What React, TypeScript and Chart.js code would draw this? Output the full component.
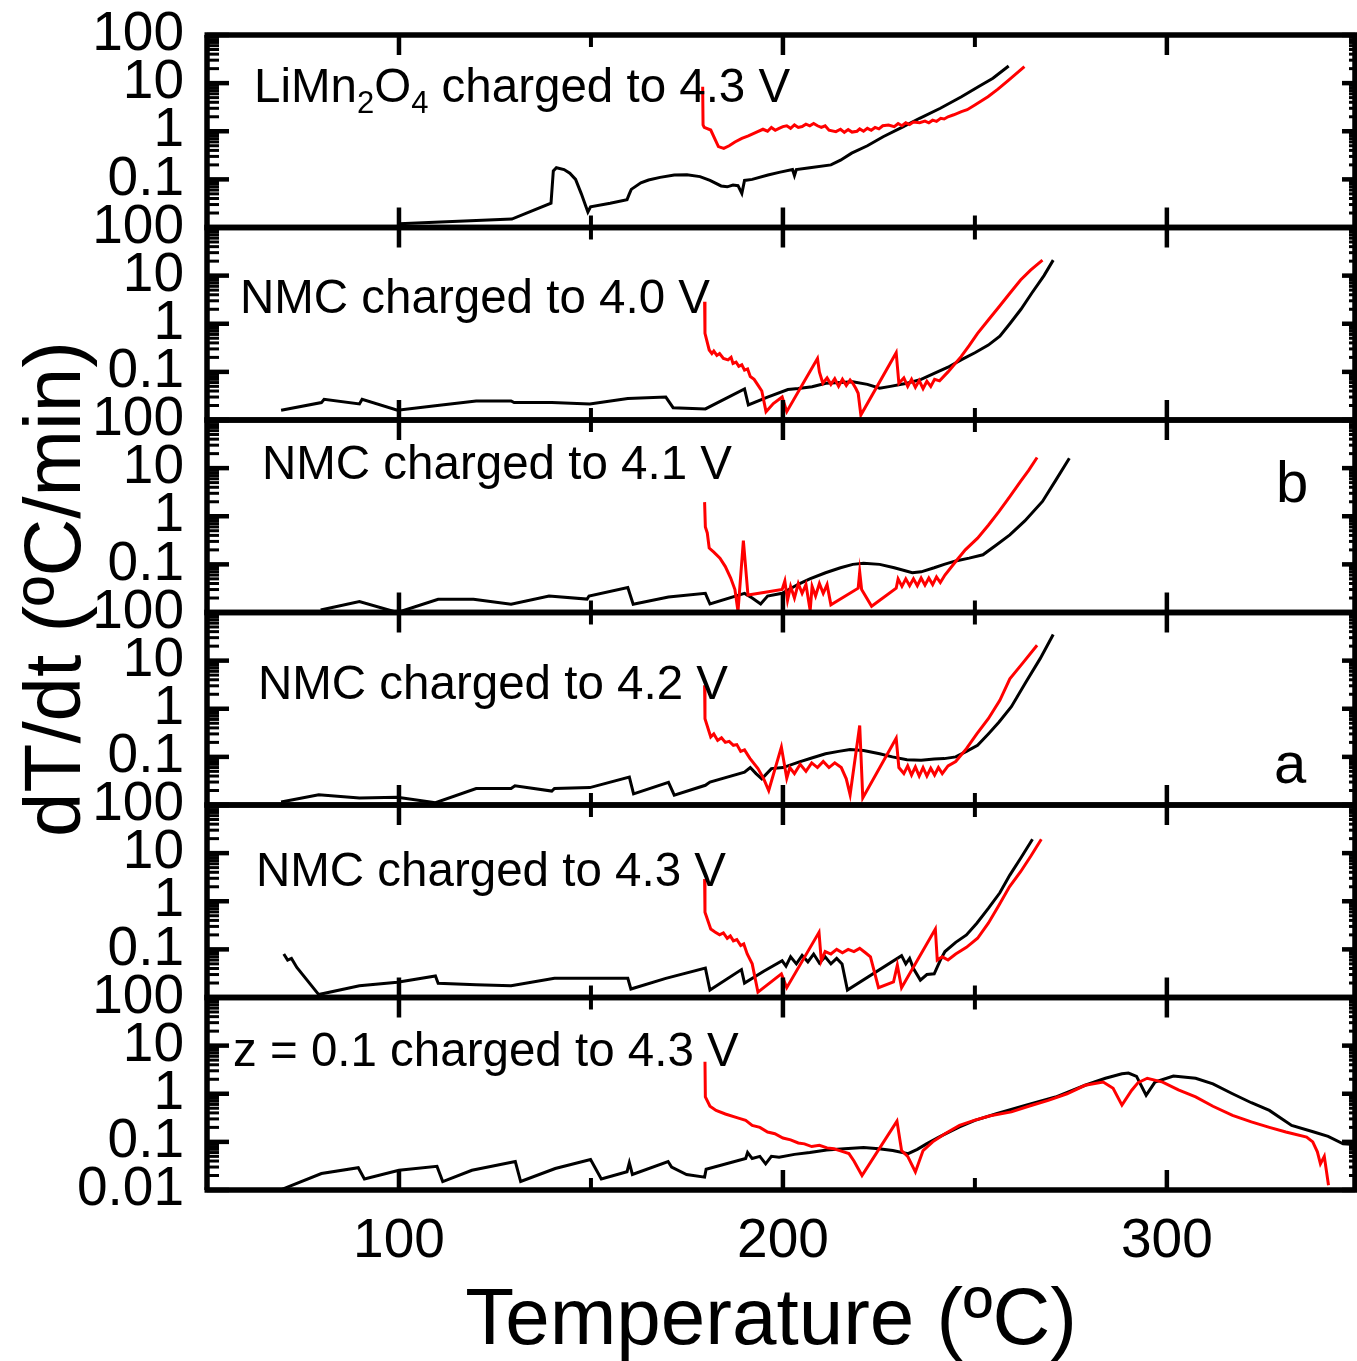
import React, { useEffect, useRef } from 'react';
import { Chart, registerables } from 'chart.js';

Chart.register(...registerables);

const FONT = '"Liberation Sans", Arial, Helvetica, sans-serif';

// ---------- axes ----------
const xMin = 50;
const xMax = 349;
const xMajorTicks = [100, 200, 300];
const xMinorTicks = [150, 250];
const xTickLabels = ['100', '200', '300'];

const yMin = 0.01;
const yMax = 100;
const yDecades = [0.01, 0.1, 1, 10, 100];
const yTickLabels = ['0.01', '0.1', '1', '10', '100'];
const yMinorMult = [2, 3, 4, 5, 6, 7, 8, 9];

const xTitle = 'Temperature (ºC)';
const yTitle = 'dT/dt (ºC/min)';

const panelTitles = [
  'LiMn2O4 charged to 4.3 V',
  'NMC charged to 4.0 V',
  'NMC charged to 4.1 V',
  'NMC charged to 4.2 V',
  'NMC charged to 4.3 V',
  'z = 0.1 charged to 4.3 V',
];
const panel1TitleParts: [string, boolean][] = [
  ['LiMn', false], ['2', true], ['O', false], ['4', true], [' charged to 4.3 V', false],
];
const sideLetters = ['b', 'a'];

// ---------- panel 1 : LiMn2O4 4.3 V ----------
const p1BlackT = [100, 129.4, 139.6, 140.2, 141, 143, 144.5, 146, 147.5, 149.2, 149.9, 155, 159.4, 160, 160.5, 163, 165, 168, 171.7, 175, 178.4, 181, 183.9, 185.5, 187, 188.3, 189.3, 190, 192, 196.1, 199, 202.5, 203, 203.5, 207, 212.5, 215, 217.9, 222, 226.1, 231, 235.6, 241, 246.5, 251, 254.7, 258.8];
const p1BlackV = [0.012, 0.015, 0.032, 0.15, 0.175, 0.16, 0.134, 0.1, 0.05, 0.021, 0.027, 0.032, 0.038, 0.05, 0.062, 0.085, 0.097, 0.11, 0.123, 0.125, 0.114, 0.095, 0.073, 0.07, 0.076, 0.074, 0.051, 0.095, 0.1, 0.123, 0.14, 0.16, 0.12, 0.16, 0.175, 0.2, 0.25, 0.35, 0.5, 0.77, 1.2, 1.86, 3.0, 5.2, 8.5, 12.6, 22.7];
const p1RedT = [179.1, 179.2, 179.5, 181.2, 183.2, 184.6, 186, 187.5, 189.3, 191, 193, 194.8, 196, 197, 198, 199, 200, 201, 202, 203, 204, 205, 206, 207, 208, 209, 210, 211, 212, 213.8, 215, 216, 217, 218, 219.3, 220, 221, 222, 223, 224, 225, 226, 227.5, 229, 230, 231, 232, 233, 234, 235.6, 237, 238, 239, 240, 241.1, 242, 243, 244.5, 246.5, 248, 250, 253.4, 256, 258.8, 262.9];
const p1RedV = [8.4, 1.35, 1.2, 1.06, 0.48, 0.44, 0.5, 0.6, 0.71, 0.8, 0.95, 1.1, 1.0, 1.2, 1.05, 1.15, 1.25, 1.3, 1.15, 1.35, 1.2, 1.25, 1.4, 1.3, 1.45, 1.3, 1.2, 1.3, 1.05, 0.98, 1.1, 0.95, 1.08, 0.96, 1.0, 1.12, 1.0, 1.15, 1.05, 1.2, 1.12, 1.3, 1.35, 1.25, 1.45, 1.3, 1.5, 1.38, 1.55, 1.5, 1.62, 1.5, 1.7, 1.6, 1.86, 1.8, 2.0, 2.2, 2.55, 2.8, 3.5, 5.2, 7.5, 11.6, 22];

// ---------- panel 2 : NMC 4.0 V ----------
const p2BlackT = [69.3, 79.8, 80.5, 89.7, 90.4, 99.6, 110, 120.1, 129.2, 130, 139.8, 149.7, 159.6, 169.5, 171.4, 179.8, 190, 191, 196, 201.3, 204, 207.6, 211.2, 215, 218.2, 222, 225.2, 228, 232.3, 236, 239.4, 243, 246.4, 250, 253.5, 256.5, 259.1, 262, 264.8, 268, 270.4];
const p2BlackV = [0.016, 0.023, 0.027, 0.0215, 0.027, 0.016, 0.02, 0.0248, 0.0248, 0.023, 0.023, 0.0215, 0.028, 0.03, 0.018, 0.017, 0.044, 0.0205, 0.03, 0.043, 0.045, 0.049, 0.058, 0.06, 0.0625, 0.055, 0.0457, 0.05, 0.058, 0.07, 0.093, 0.125, 0.177, 0.25, 0.36, 0.55, 1.0, 2.0, 4.3, 10, 21];
const p2RedT = [179.6, 179.7, 180.8, 181.5, 182, 182.8, 183.5, 184.5, 185.7, 186.5, 187, 187.8, 188.5, 189.3, 190, 190.8, 191.5, 192.5, 193.5, 194.5, 195.6, 197.5, 199.8, 201, 209, 209.5, 210.4, 211.5, 212.5, 213.5, 214.5, 215.5, 216.5, 217.5, 218.2, 219, 219.6, 220.3, 229.5, 230.2, 231.5, 232.5, 233.5, 234.5, 235.5, 236.5, 237.5, 238.5, 239.5, 240.8, 243, 246.4, 248.5, 250.7, 253.5, 256.3, 259, 261.9, 264.5, 267.6];
const p2RedV = [2.87, 0.63, 0.285, 0.24, 0.27, 0.22, 0.24, 0.19, 0.177, 0.2, 0.15, 0.16, 0.13, 0.14, 0.109, 0.115, 0.08, 0.07, 0.053, 0.04, 0.0149, 0.022, 0.03, 0.0149, 0.19, 0.1, 0.058, 0.075, 0.055, 0.072, 0.05, 0.07, 0.052, 0.068, 0.058, 0.045, 0.036, 0.0127, 0.25, 0.058, 0.075, 0.05, 0.07, 0.048, 0.066, 0.045, 0.064, 0.05, 0.07, 0.065, 0.1, 0.207, 0.35, 0.63, 1.2, 2.26, 4.2, 8.1, 13, 21];

// ---------- panel 3 : NMC 4.1 V ----------
const p3BlackT = [79.6, 89.7, 99.6, 110.2, 119.4, 129.2, 139.1, 149, 149.5, 159.6, 161, 170.2, 179.8, 181, 190, 192, 194.2, 196, 199.8, 204.1, 207, 211.1, 215, 218.2, 221, 225.2, 229, 233.7, 236, 239.4, 242, 245, 248.5, 252.1, 255.5, 259.1, 263, 267.6, 271, 274.6];
const p3BlackV = [0.0113, 0.0168, 0.01, 0.0188, 0.0188, 0.0148, 0.022, 0.019, 0.022, 0.033, 0.0148, 0.021, 0.025, 0.015, 0.025, 0.02, 0.015, 0.022, 0.025, 0.039, 0.05, 0.067, 0.085, 0.1, 0.105, 0.1, 0.085, 0.067, 0.07, 0.085, 0.1, 0.118, 0.135, 0.158, 0.25, 0.41, 0.8, 2.03, 5.5, 16];
const p3RedT = [179.6, 179.8, 180.3, 180.8, 182, 183.6, 185, 186.4, 187.5, 188.3, 189.7, 190.9, 195, 199.8, 200.5, 201.2, 202, 203, 204, 205, 206, 207.1, 207.6, 208.5, 209.5, 210.5, 211.5, 212.5, 219.6, 220, 220.5, 223.1, 229.5, 230, 231, 232, 233, 234, 235, 236, 237, 238, 239, 240, 241, 242.2, 245, 247.5, 250.7, 253.5, 256.3, 259, 261.9, 264, 266.2];
const p3RedV = [1.97, 0.6, 0.45, 0.218, 0.18, 0.135, 0.09, 0.052, 0.03, 0.0105, 0.31, 0.023, 0.026, 0.03, 0.045, 0.018, 0.035, 0.02, 0.04, 0.025, 0.038, 0.011, 0.035, 0.022, 0.04, 0.025, 0.038, 0.0144, 0.032, 0.07, 0.03, 0.0135, 0.032, 0.05, 0.035, 0.05, 0.036, 0.05, 0.036, 0.052, 0.037, 0.052, 0.038, 0.055, 0.042, 0.06, 0.115, 0.2, 0.35, 0.65, 1.26, 2.5, 5.3, 9, 16.6];

// ---------- panel 4 : NMC 4.2 V ----------
const p4BlackT = [69.3, 79.1, 89.7, 99.6, 109.5, 120.1, 129.2, 130.2, 139.8, 140.5, 149.7, 160, 161.1, 170.2, 171.7, 179.8, 181, 190, 191.5, 193, 194.5, 197, 200, 204.1, 207.5, 211.1, 214.5, 217.5, 221, 225.2, 228.5, 232.3, 236, 239.4, 242, 245, 247.8, 250.7, 253.5, 256.3, 259.5, 263.3, 267, 270.4];
const p4BlackV = [0.0115, 0.0164, 0.014, 0.0145, 0.0112, 0.022, 0.022, 0.025, 0.0195, 0.022, 0.023, 0.038, 0.017, 0.0295, 0.016, 0.0257, 0.03, 0.048, 0.06, 0.045, 0.035, 0.057, 0.06, 0.078, 0.095, 0.116, 0.13, 0.143, 0.135, 0.116, 0.1, 0.087, 0.085, 0.09, 0.092, 0.1, 0.13, 0.174, 0.3, 0.53, 1.1, 3.6, 11, 35];
const p4RedT = [179.6, 179.7, 181.2, 182, 183, 184, 185, 186, 187.1, 188, 189, 190, 191.4, 193.5, 195, 196.3, 199.6, 201, 201.8, 203, 204.5, 206, 207.5, 209, 210.5, 212, 213.5, 215.2, 216.5, 217.5, 220, 220.8, 229.5, 230.2, 231.5, 232.5, 233.5, 234.5, 235.5, 236.5, 237.5, 238.5, 239.5, 240.5, 241.5, 243, 245, 247.8, 250.5, 253.5, 256.5, 259.1, 262.5, 266.2];
const p4RedV = [3.07, 0.62, 0.26, 0.3, 0.22, 0.25, 0.2, 0.21, 0.174, 0.18, 0.13, 0.14, 0.093, 0.057, 0.035, 0.02, 0.16, 0.036, 0.06, 0.045, 0.07, 0.05, 0.075, 0.06, 0.08, 0.06, 0.075, 0.06, 0.035, 0.0164, 0.45, 0.014, 0.245, 0.06, 0.045, 0.065, 0.042, 0.062, 0.04, 0.06, 0.04, 0.058, 0.042, 0.06, 0.045, 0.065, 0.08, 0.148, 0.3, 0.62, 1.5, 4.2, 9, 20.8];

// ---------- panel 5 : NMC 4.3 V ----------
const p5BlackT = [70, 71, 72, 73.4, 79.1, 89.7, 99.6, 109.5, 110.2, 120.1, 129.2, 140.5, 159.6, 160.4, 169.5, 179.8, 181, 189.2, 190, 195, 199.8, 200.8, 202, 203.5, 205, 206.5, 208, 209.5, 211, 212.5, 214, 215.4, 216.8, 230.9, 232, 233, 234, 235.8, 237.5, 239.4, 241, 242.2, 245, 247.8, 250.5, 253.5, 256.5, 259.1, 262, 265];
const p5BlackV = [0.08, 0.06, 0.065, 0.042, 0.0115, 0.0176, 0.0207, 0.028, 0.0197, 0.0185, 0.0176, 0.025, 0.025, 0.015, 0.025, 0.041, 0.0143, 0.038, 0.02, 0.035, 0.058, 0.045, 0.07, 0.05, 0.075, 0.055, 0.08, 0.052, 0.07, 0.05, 0.065, 0.05, 0.0143, 0.074, 0.05, 0.065, 0.04, 0.023, 0.03, 0.031, 0.06, 0.09, 0.14, 0.2, 0.35, 0.71, 1.5, 3.5, 8, 19.4];
const p5RedT = [179.6, 179.7, 181.2, 182.3, 183.5, 184.5, 185.5, 186.3, 187.1, 188, 189, 189.8, 190.7, 192, 193.5, 199.6, 201, 209.4, 210, 211, 212.5, 214, 215.5, 217, 218.5, 220, 221.5, 222.8, 224.9, 228.8, 229.8, 230.9, 239.7, 240.2, 241.5, 243, 245, 247.8, 250.7, 253.5, 256.3, 259, 261.9, 264.5, 267.3];
const p5RedV = [2.9, 0.59, 0.265, 0.23, 0.2, 0.22, 0.17, 0.19, 0.15, 0.16, 0.12, 0.13, 0.08, 0.05, 0.0129, 0.031, 0.016, 0.226, 0.058, 0.09, 0.08, 0.1, 0.085, 0.1, 0.09, 0.105, 0.085, 0.07, 0.016, 0.021, 0.047, 0.016, 0.265, 0.06, 0.07, 0.06, 0.08, 0.11, 0.17, 0.35, 0.84, 2.0, 4.1, 8.5, 19.4];

// ---------- panel 6 : z = 0.1 4.3 V ----------
const p6BlackT = [69.2, 79.8, 89.4, 91, 100, 109.9, 111.4, 119, 130.3, 131.7, 140.7, 149.9, 152.7, 159.4, 160, 160.8, 170.1, 171, 174.9, 179.6, 180, 190.3, 190.8, 192, 194, 195.5, 197, 199, 203, 207, 211.4, 216, 221, 225, 228.6, 232.6, 235, 237.4, 241, 246, 250, 255.6, 263.3, 271, 278.7, 284, 288.3, 290, 292.1, 294.6, 296.9, 301.7, 307.5, 312, 317.1, 322, 326.7, 332.5, 338.3, 342, 345.9, 349];
const p6BlackV = [0.0101, 0.022, 0.029, 0.017, 0.0257, 0.031, 0.015, 0.0257, 0.039, 0.015, 0.028, 0.043, 0.017, 0.024, 0.037, 0.021, 0.039, 0.03, 0.021, 0.0185, 0.027, 0.045, 0.06, 0.045, 0.05, 0.035, 0.05, 0.048, 0.055, 0.06, 0.068, 0.072, 0.076, 0.072, 0.066, 0.057, 0.07, 0.091, 0.13, 0.204, 0.28, 0.385, 0.575, 0.855, 1.5, 2.1, 2.6, 2.7, 2.3, 0.93, 1.75, 2.34, 2.1, 1.6, 1.0, 0.65, 0.45, 0.22, 0.16, 0.13, 0.091, 0.088];
const p6RedT = [179.7, 179.8, 181, 182.6, 185, 188, 190.3, 192, 194, 196, 197.9, 200, 202, 204, 205.6, 207.5, 209.5, 211.5, 213.3, 215, 217.2, 218.5, 220.6, 229.7, 230.9, 232.5, 234.5, 236.5, 239, 242.2, 246, 249.8, 254, 259.5, 264, 269.1, 274, 278.7, 283.4, 286, 288.3, 290.8, 292.5, 294.9, 298.9, 303, 307.5, 312, 317.1, 322, 326.7, 331, 336.4, 338, 339.2, 340, 341, 342.1];
const p6RedV = [4.6, 0.86, 0.55, 0.45, 0.38, 0.32, 0.28, 0.22, 0.2, 0.16, 0.148, 0.12, 0.11, 0.095, 0.091, 0.08, 0.085, 0.075, 0.072, 0.065, 0.057, 0.04, 0.02, 0.27, 0.066, 0.05, 0.0237, 0.066, 0.1, 0.148, 0.22, 0.28, 0.35, 0.42, 0.55, 0.73, 1.0, 1.5, 1.75, 1.3, 0.58, 1.17, 1.7, 2.1, 1.75, 1.2, 0.86, 0.55, 0.355, 0.26, 0.2, 0.16, 0.126, 0.1, 0.062, 0.035, 0.05, 0.0125];

const panelIds = ['y1', 'y2', 'y3', 'y4', 'y5', 'y6'];
const blackSeries: [number[], number[]][] = [
  [p1BlackT, p1BlackV], [p2BlackT, p2BlackV], [p3BlackT, p3BlackV],
  [p4BlackT, p4BlackV], [p5BlackT, p5BlackV], [p6BlackT, p6BlackV],
];
const redSeries: [number[], number[]][] = [
  [p1RedT, p1RedV], [p2RedT, p2RedV], [p3RedT, p3RedV],
  [p4RedT, p4RedV], [p5RedT, p5RedV], [p6RedT, p6RedV],
];

const toPts = (t: number[], v: number[]) => t.map((x, i) => ({ x, y: v[i] }));
const font = (size: number) => `${size}px ${FONT}`;

const framePlugin = {
  id: 'frames',
  afterDatasetsDraw(chart: any) {
    const ctx = chart.ctx as CanvasRenderingContext2D;
    const { left, right, top, bottom } = chart.chartArea;
    const xs = chart.scales.x;
    const seg = (x1: number, y1: number, x2: number, y2: number, w: number) => {
      ctx.lineWidth = w;
      ctx.beginPath();
      ctx.moveTo(x1, y1);
      ctx.lineTo(x2, y2);
      ctx.stroke();
    };
    ctx.save();
    ctx.strokeStyle = '#000';
    ctx.lineCap = 'butt';
    panelIds.forEach((id) => {
      const s = chart.scales[id];
      yDecades.forEach((d) => {
        const p = s.getPixelForValue(d);
        seg(left, p, left + 22, p, 4.5);
        seg(right, p, right - 13, p, 4.5);
      });
      yDecades.slice(0, 4).forEach((d) => {
        yMinorMult.forEach((m) => {
          const p = s.getPixelForValue(d * m);
          seg(left, p, left + 12, p, 3);
          seg(right, p, right - 6, p, 3);
        });
      });
      xMajorTicks.forEach((v) => {
        const px = xs.getPixelForValue(v);
        seg(px, s.top, px, s.top + 20, 4.5);
        seg(px, s.bottom, px, s.bottom - 20, 4.5);
      });
      xMinorTicks.forEach((v) => {
        const px = xs.getPixelForValue(v);
        seg(px, s.top, px, s.top + 12, 4);
        seg(px, s.bottom, px, s.bottom - 12, 4);
      });
      seg(left - 2.5, s.top, right + 2.5, s.top, 5.5);
      seg(left - 2.5, s.bottom, right + 2.5, s.bottom, 5.5);
    });
    seg(left, top, left, bottom, 5.5);
    seg(right, top, right, bottom, 5.5);
    ctx.restore();
  },
  afterDraw(chart: any) {
    const ctx = chart.ctx as CanvasRenderingContext2D;
    ctx.save();
    ctx.fillStyle = '#000';
    ctx.font = font(80);
    ctx.textAlign = 'center';
    ctx.textBaseline = 'alphabetic';
    ctx.fillText(xTitle, 771, 1344);
    ctx.save();
    ctx.translate(80, 589);
    ctx.rotate(-Math.PI / 2);
    ctx.fillText(yTitle, 0, 0);
    ctx.restore();

    ctx.textAlign = 'left';
    const titlePos: [number, number][] = [
      [254, 102], [240, 313], [262, 479], [258, 699], [256, 886], [233, 1066],
    ];
    panelTitles.forEach((t, i) => {
      const [x, y] = titlePos[i];
      if (i === 0) {
        let cx = x;
        panel1TitleParts.forEach(([txt, sub]) => {
          ctx.font = font(sub ? 31 : 47.5);
          ctx.fillText(txt, cx, sub ? y + 11 : y);
          cx += ctx.measureText(txt).width;
        });
      } else {
        ctx.font = font(47.5);
        ctx.fillText(t, x, y);
      }
    });
    ctx.font = font(58);
    ctx.fillText(sideLetters[0], 1276, 502);
    ctx.fillText(sideLetters[1], 1274, 783);
    ctx.restore();
  },
};

export default function App() {
  const ref = useRef<HTMLCanvasElement | null>(null);
  useEffect(() => {
    if (!ref.current) return;
    const datasets: any[] = [];
    panelIds.forEach((id, i) => {
      datasets.push({
        data: toPts(redSeries[i][0], redSeries[i][1]),
        xAxisID: 'x', yAxisID: id,
        borderColor: '#ff0000', borderWidth: 3, pointRadius: 0, tension: 0, fill: false,
      });
    });
    panelIds.forEach((id, i) => {
      datasets.push({
        data: toPts(blackSeries[i][0], blackSeries[i][1]),
        xAxisID: 'x', yAxisID: id,
        borderColor: '#000000', borderWidth: 3, pointRadius: 0, tension: 0, fill: false,
      });
    });

    const scales: any = {
      x: {
        type: 'linear', position: 'bottom', min: xMin, max: xMax,
        grid: { display: false, drawTicks: false }, border: { display: false },
        afterBuildTicks: (a: any) => { a.ticks = xMajorTicks.map((v) => ({ value: v })); },
        afterFit: (s: any) => { s.height = 171; s.paddingLeft = 0; s.paddingRight = 0; },
        ticks: {
          autoSkip: false, maxRotation: 0, padding: 19, color: '#000',
          font: { size: 55, family: FONT },
          callback: (v: any) => xTickLabels[xMajorTicks.indexOf(v)] ?? '',
        },
      },
    };
    panelIds.forEach((id, i) => {
      scales[id] = {
        type: 'logarithmic', position: 'left', stack: 'panels', stackWeight: 1,
        weight: 6 - i, offset: false, min: yMin, max: yMax,
        grid: { display: false, drawTicks: false }, border: { display: false },
        afterBuildTicks: (a: any) => { a.ticks = yDecades.map((v) => ({ value: v })); },
        afterFit: (s: any) => { s.width = 207; s.paddingTop = 0; s.paddingBottom = 0; },
        ticks: {
          autoSkip: false, padding: 23, color: '#000',
          font: { size: 55, family: FONT },
          callback: (v: any) => {
            const k = yDecades.indexOf(v);
            if (k === 0 && i < panelIds.length - 1) return '';
            return yTickLabels[k] ?? '';
          },
        },
      };
    });

    const chart = new Chart(ref.current, {
      type: 'line',
      data: { datasets },
      options: {
        responsive: false,
        animation: false,
        devicePixelRatio: 1,
        layout: { padding: { top: 35, right: 2, bottom: 0, left: 0 } },
        plugins: { legend: { display: false }, tooltip: { enabled: false } },
        scales,
      } as any,
      plugins: [framePlugin],
    });
    return () => chart.destroy();
  }, []);

  return (
    <div style={{ position: 'absolute', left: 0, top: 0, width: 1357, height: 1361, background: '#fff' }}>
      <canvas ref={ref} width={1357} height={1361} style={{ display: 'block', width: 1357, height: 1361 }} />
    </div>
  );
}
